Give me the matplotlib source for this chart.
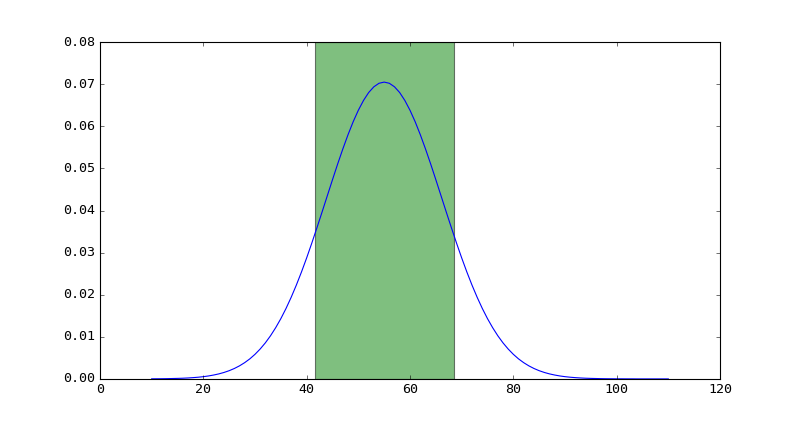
import matplotlib
matplotlib.use("Agg")
import matplotlib.pyplot as plt

# Werte (x = 10 ... 110 in 1er-Schritten)
x_vals = list(range(10, 111))
y_vals = [0.00002, 0.00003, 0.00004, 0.00006, 0.00009, 0.00012, 0.00016, 0.00022,
          0.00030, 0.00040, 0.00053, 0.00070, 0.00092, 0.00119, 0.00153, 0.00195,
          0.00247, 0.00310, 0.00386, 0.00476, 0.00584, 0.00710, 0.00856, 0.01024,
          0.01216, 0.01431, 0.01672, 0.01938, 0.02228, 0.02541, 0.02875, 0.03228,
          0.03595, 0.03971, 0.04352, 0.04732, 0.05105, 0.05462, 0.05799, 0.06108,
          0.06381, 0.06614, 0.06802, 0.06938, 0.07022, 0.07050, 0.07022, 0.06938,
          0.06802, 0.06614, 0.06381, 0.06108, 0.05799, 0.05462, 0.05105, 0.04732,
          0.04352, 0.03971, 0.03595, 0.03228, 0.02875, 0.02541, 0.02228, 0.01938,
          0.01672, 0.01431, 0.01216, 0.01024, 0.00856, 0.00710, 0.00584, 0.00476,
          0.00386, 0.00310, 0.00247, 0.00195, 0.00153, 0.00119, 0.00092, 0.00070,
          0.00053, 0.00040, 0.00030, 0.00022, 0.00016, 0.00012, 0.00009, 0.00006,
          0.00004, 0.00003, 0.00002, 0.00002, 0.00001, 0.00001, 0.0, 0.0,
          0.0, 0.0, 0.0, 0.0, 0.0]

# Bereich (gruen hinterlegt)
span_lo = 41.6
span_hi = 68.5

plt.style.use("classic")
plt.rcParams["font.family"] = ["DejaVu Sans Mono"]

fig = plt.figure(figsize=(10, 5.2625), dpi=80)
ax = fig.add_subplot(111)

ax.axvspan(span_lo, span_hi, facecolor="g", edgecolor="k", alpha=0.5)
ax.plot(x_vals, y_vals, color="b")

ax.set_xlim(0, 120)
ax.set_ylim(0, 0.08)

fig.savefig("out.png", dpi=80)
